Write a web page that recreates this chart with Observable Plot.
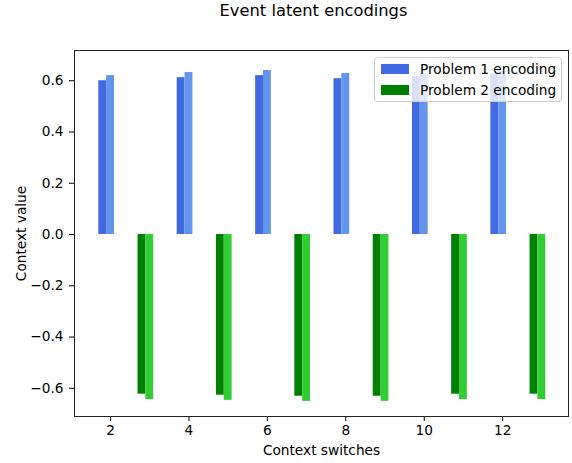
<!DOCTYPE html>
<html>
<head>
<meta charset="utf-8">
<script src="https://cdn.jsdelivr.net/npm/d3@7"></script>
<script src="https://cdn.jsdelivr.net/npm/@observablehq/plot@0.6"></script>
<style>
  body { margin: 0; background: #fff; font-family: "DejaVu Sans", sans-serif; }
  #wrap { position: relative; width: 572px; height: 463px; }
  #title { position: absolute; left: 0; width: 627px; top: 1px; text-align: center; font-size: 16.3px; color: #000; }
  #legend { position: absolute; left: 374px; top: 57px; width: 186px; height: 43px; background: rgba(255,255,255,0.8); border: 1px solid #d0d0d0; border-radius: 3px; font-size: 13.7px; }
  .row { position: absolute; left: 6px; height: 16px; display: flex; align-items: center; }
  .sw { width: 28px; height: 10px; margin-right: 11px; }
</style>
</head>
<body>
<div id="wrap">
  <div id="chart"></div>
  <div id="title">Event latent encodings</div>
  <div id="legend"></div>
</div>
<script>
const blueX = [2, 4, 6, 8, 10, 12];
const p1a = [0.600, 0.612, 0.620, 0.608, 0.616, 0.627];
const p1b = [0.620, 0.632, 0.640, 0.628, 0.627, 0.637];
const greenX = [3, 5, 7, 9, 11, 13];
const p2a = [-0.623, -0.627, -0.631, -0.631, -0.623, -0.623];
const p2b = [-0.644, -0.647, -0.651, -0.651, -0.644, -0.644];
const xTicks = [2, 4, 6, 8, 10, 12];
const yTicks = [-0.6, -0.4, -0.2, 0.0, 0.2, 0.4, 0.6];
const legendLabels = ["Problem 1 encoding", "Problem 2 encoding"];
const legendColors = ["royalblue", "green"];

const w = 0.2;
function bars(xs, vs, offset) {
  return xs.map((x, i) => ({x1: x + offset - w / 2, x2: x + offset + w / 2, v: vs[i]}));
}

const plot = Plot.plot({
  width: 572,
  height: 463,
  marginLeft: 74,
  marginRight: 4,
  marginTop: 50,
  marginBottom: 47,
  style: {fontFamily: "DejaVu Sans, sans-serif", fontSize: "13.7px", color: "#000", background: "#fff"},
  x: {domain: [1.08, 13.68]},
  y: {domain: [-0.71, 0.718]},
  marks: [
    Plot.rectY(bars(blueX, p1a, -0.2), {x1: "x1", x2: "x2", y: "v", fill: "royalblue"}),
    Plot.rectY(bars(blueX, p1b, 0), {x1: "x1", x2: "x2", y: "v", fill: "cornflowerblue"}),
    Plot.rectY(bars(greenX, p2a, -0.2), {x1: "x1", x2: "x2", y: "v", fill: "green"}),
    Plot.rectY(bars(greenX, p2b, 0), {x1: "x1", x2: "x2", y: "v", fill: "limegreen"}),
    Plot.axisX({ticks: xTicks, tickSize: 5, tickPadding: 4, tickFormat: d3.format("d"),
      label: "Context switches", labelArrow: false, labelAnchor: "center", labelOffset: 38, fontSize: "13.7px"}),
    Plot.axisY({ticks: yTicks, tickSize: 5, tickPadding: 6, tickFormat: d3.format(".1f"),
      label: "Context value", labelArrow: false, labelAnchor: "center", labelOffset: 58, fontSize: "13.7px"}),
    Plot.frame({stroke: "#222", strokeWidth: 1})
  ]
});
document.getElementById("chart").appendChild(plot);

const lg = document.getElementById("legend");
legendLabels.forEach((lab, i) => {
  const row = document.createElement("div");
  row.className = "row";
  row.style.top = (3 + i * 21) + "px";
  const sw = document.createElement("div");
  sw.className = "sw";
  sw.style.background = legendColors[i];
  const t = document.createElement("span");
  t.textContent = lab;
  row.appendChild(sw);
  row.appendChild(t);
  lg.appendChild(row);
});
</script>
</body>
</html>
